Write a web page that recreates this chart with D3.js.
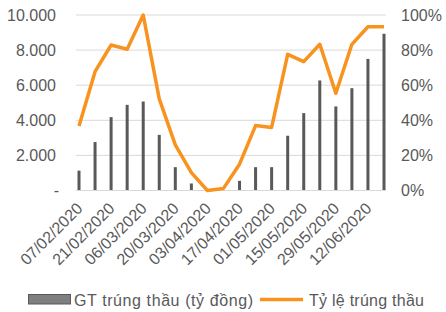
<!DOCTYPE html>
<html><head><meta charset="utf-8">
<script src="https://cdn.jsdelivr.net/npm/d3@7"></script>
<style>body{margin:0;background:#fff}svg{display:block}text{font-family:"Liberation Sans",Arial,sans-serif;fill:#595959}</style>
</head><body><svg id="c" width="446" height="312"></svg>
<script>
const dates = ["07/02/2020","14/02/2020","21/02/2020","28/02/2020","06/03/2020","13/03/2020","20/03/2020","27/03/2020","03/04/2020","10/04/2020","17/04/2020","24/04/2020","01/05/2020","08/05/2020","15/05/2020","22/05/2020","29/05/2020","05/06/2020","12/06/2020","19/06/2020"];
const gtValues = [1130,2760,4180,4880,5070,3170,1330,400,0,0,550,1330,1330,3120,4410,6270,4790,5830,7500,8930];
const tyLe = [0.368,0.677,0.829,0.805,1.0,0.522,0.26,0.102,0.0,0.012,0.15,0.37,0.359,0.776,0.734,0.833,0.554,0.833,0.933,0.933];
const leftTicks = [0,2000,4000,6000,8000,10000];
const rightTicks = [0,0.2,0.4,0.6,0.8,1.0];
const legendLabels = ["GT trúng thầu (tỷ đồng)","Tỷ lệ trúng thầu"];

const svg = d3.select("#c");
const x = d3.scalePoint().domain(dates).range([79,384]);
const y = d3.scaleLinear().domain([0,10000]).range([190.5,15]);
const y2 = d3.scaleLinear().domain([0,1]).range([190.5,15]);
const fs = 16;

// gridlines
svg.append("g").selectAll("line").data(leftTicks).join("line")
  .attr("x1",76).attr("x2",386).attr("y1",d=>y(d)).attr("y2",d=>y(d))
  .attr("stroke","#d9d9d9").attr("stroke-width",1);

// left axis
const fmt = d => d===0 ? "-" : d3.format(",")(d).replace(/,/g,".");
const ga = svg.append("g").attr("transform","translate(56,0)")
  .call(d3.axisLeft(y).tickValues(leftTicks).tickSize(0).tickPadding(0).tickFormat(fmt));
ga.select(".domain").remove();
ga.selectAll("text").style("font-size",fs+"px").attr("fill","#595959").attr("font-family","Liberation Sans, Arial");
ga.selectAll(".tick").filter(d=>d===0).select("text").attr("dx",3);

// right axis
const gb = svg.append("g").attr("transform","translate(401,0)")
  .call(d3.axisRight(y2).tickValues(rightTicks).tickSize(0).tickPadding(0).tickFormat(d3.format(".0%")));
gb.select(".domain").remove();
gb.selectAll("text").style("font-size",fs+"px").attr("fill","#595959").attr("font-family","Liberation Sans, Arial");

// bars
svg.append("g").selectAll("rect").data(gtValues).join("rect")
  .attr("x",(d,i)=>x(dates[i])-1.5).attr("width",3)
  .attr("y",d=>y(d)).attr("height",d=>y(0)-y(d))
  .attr("fill","#595959");

// bottom axis
const gx = svg.append("g").attr("transform","translate(0,190.5)")
  .call(d3.axisBottom(x).tickValues(dates.filter((d,i)=>i%2===0)).tickSize(0).tickPadding(0));
gx.select(".domain").attr("d","M76,0H386").attr("stroke","#d9d9d9");
gx.selectAll("text").style("font-size",fs+"px").attr("fill","#595959").attr("font-family","Liberation Sans, Arial")
  .attr("text-anchor","end").attr("dy",null).attr("y",0)
  .attr("transform","translate(4,19) rotate(-45)");

// line
svg.append("path").datum(tyLe)
  .attr("d",d3.line().x((d,i)=>x(dates[i])).y(d=>y2(d)))
  .attr("fill","none").attr("stroke","#F7931E").attr("stroke-width",3.5).attr("stroke-linejoin","round");

// legend
svg.append("rect").attr("x",28.5).attr("y",294.5).attr("width",42).attr("height",9.5)
  .attr("fill","#7f7f7f").attr("stroke","#595959").attr("stroke-width",1);
svg.append("text").attr("x",74).attr("y",306).style("font-size",fs+"px")
  .attr("textLength",179).attr("lengthAdjust","spacing").text(legendLabels[0]);
svg.append("line").attr("x1",260).attr("x2",303).attr("y1",299.5).attr("y2",299.5)
  .attr("stroke","#F7931E").attr("stroke-width",3.5);
svg.append("text").attr("x",309).attr("y",306).style("font-size",fs+"px")
  .attr("textLength",115).attr("lengthAdjust","spacing").text(legendLabels[1]);
</script></body></html>
